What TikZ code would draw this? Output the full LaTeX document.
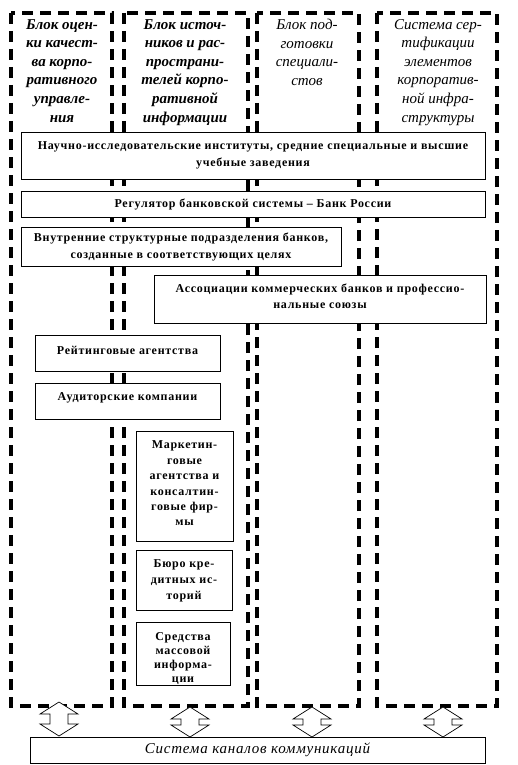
\documentclass[tikz,border=0pt]{standalone}
\usepackage{fontspec}
\setmainfont{Liberation Serif}
\newfontfamily\boxfont[LetterSpace=6]{Liberation Serif}
\newfontfamily\botfont[LetterSpace=5]{Liberation Serif}
\begin{document}
\begin{tikzpicture}[x=1pt,y=-1pt,
  col/.style={draw, line width=3.5pt, dash pattern=on 11pt off 7pt},
  box/.style={draw, fill=white, line width=1pt, font=\boxfont\bfseries\fontsize{12}{17}\selectfont, align=center, inner sep=0pt},
  txt/.style={font=\boxfont\bfseries\fontsize{12}{16}\selectfont, align=center, inner sep=0pt},
  hd/.style={font=\itshape\fontsize{15}{18.6}\selectfont, align=center, anchor=north, inner sep=0pt},
  dar/.style={draw, fill=white, line width=0.7pt}]
\useasboundingbox (0,0) rectangle (518,765);
% dashed columns
\draw[col] (11,13) rectangle (112,706);
\draw[col] (124,13) rectangle (248,706);
\draw[col] (257,13) rectangle (359,706);
\draw[col] (377,13) rectangle (497,706);
% headers
\node[hd, font=\bfseries\itshape\fontsize{15}{18.6}\selectfont] (h1) at (62,19) {Блок оцен-\\ки качест-\\ва корпо-\\ративного\\управле-\\ния};
\node[hd, font=\bfseries\itshape\fontsize{15}{18.6}\selectfont] (h2) at (185,19) {Блок источ-\\ников и рас-\\пространи-\\телей корпо-\\ративной\\информации};
\node[hd] (h3) at (307,19) {Блок под-\\готовки\\специали-\\стов};
\node[hd] (h4) at (438,19) {Система сер-\\тификации\\элементов\\корпоратив-\\ной инфра-\\структуры};
% boxes
\node[box, minimum width=464, minimum height=47] (b1) at (253,155.5) {Научно-исследовательские институты, средние специальные и высшие\\учебные заведения};
\node[box, minimum width=464, minimum height=26] (b2) at (253,204) {Регулятор банковской системы – Банк России};
\node[box, minimum width=320, minimum height=39] (b3) at (181,246.5) {Внутренние структурные подразделения банков,\\созданные в соответствующих целях};
\node[box, minimum width=332, minimum height=48] (b4) at (320,299) {};
\node[txt] (t4) at (320,296.5) {Ассоциации коммерческих банков и профессио-\\нальные союзы};
\node[box, minimum width=185, minimum height=36] (b5) at (127.5,353) {};
\node[txt] (t5) at (127.5,350) {Рейтинговые агентства};
\node[box, minimum width=185, minimum height=36] (b6) at (127.5,401) {};
\node[txt] (t6) at (127.5,398) {Аудиторские компании};
\node[box, minimum width=97, minimum height=110] (b7) at (184.5,486) {};
\node[txt, font=\boxfont\bfseries\fontsize{12}{15.4}\selectfont] (t7) at (184.5,483.5) {Маркетин-\\говые\\агентства и\\консалтин-\\говые фир-\\мы};
\node[box, minimum width=96, minimum height=60] (b8) at (184,580) {};
\node[txt] (t8) at (184,581) {Бюро кре-\\дитных ис-\\торий};
\node[box, minimum width=94, minimum height=63] (b9) at (183,653.5) {};
\node[txt, font=\boxfont\bfseries\fontsize{12}{14}\selectfont] (t9) at (183,658.5) {Средства\\массовой\\информа-\\ции};
\node[box, minimum width=455, minimum height=26, font=\botfont\itshape\fontsize{15}{16}\selectfont] (b10) at (257.5,750) {Система каналов коммуникаций};
% double arrows
\foreach \cx/\ty/\by in {59/702/736, 190/707/737, 312/707/737, 443/707/737} {
  \draw[dar] (\cx,\ty) -- (\cx+19,\ty+12) -- (\cx+9,\ty+12) -- (\cx+9,\by-12) -- (\cx+19,\by-12) -- (\cx,\by) -- (\cx-19,\by-12) -- (\cx-9,\by-12) -- (\cx-9,\ty+12) -- (\cx-19,\ty+12) -- cycle;
}
\end{tikzpicture}
\end{document}
